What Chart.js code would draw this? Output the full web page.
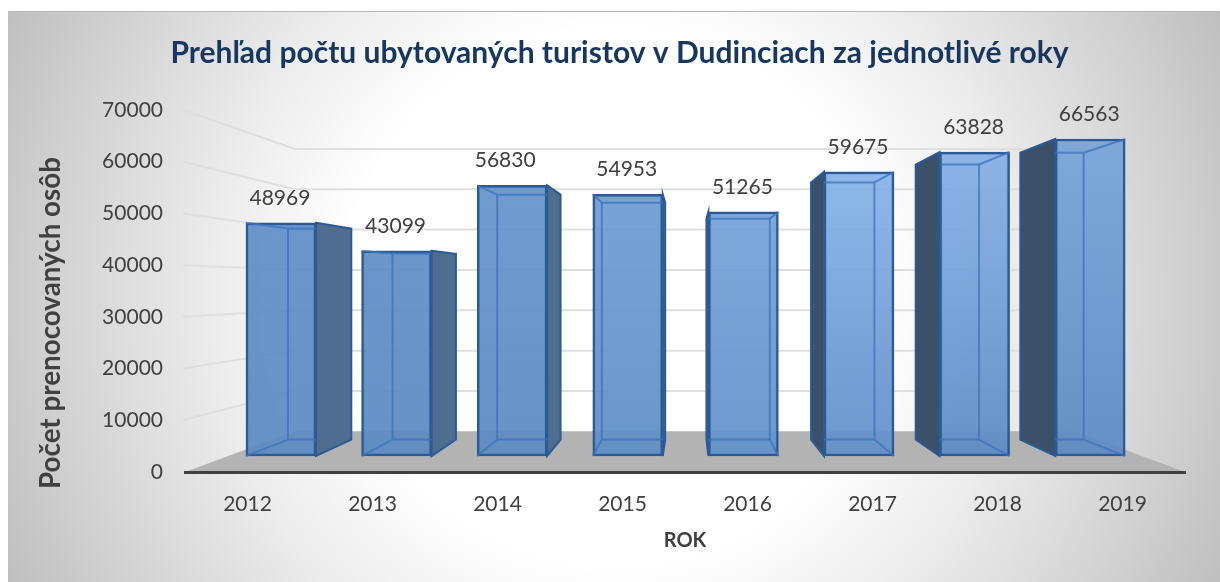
<!DOCTYPE html>
<html lang="sk">
<head>
<meta charset="utf-8">
<title>Prehľad počtu ubytovaných turistov</title>
<script src="https://cdn.jsdelivr.net/npm/chart.js@4"></script>
<style>
    html, body { margin: 0; background: #fff; }
    #panel {
        position: absolute; left: 8px; top: 11px; width: 1212px; height: 571px;
        border-top: 1px solid #b8b8b8; box-sizing: border-box;
        background: radial-gradient(circle 670px at 50% 50%, #fff 0%, #fff 40%, #ececec 60%, #d6d6d6 80%, #bfbfbf 100%);
    }
    canvas { position: absolute; left: 0; top: 0; }
</style>
</head>
<body>
<div id="panel"></div>
<canvas id="chart" width="1220" height="582"></canvas>
<script>
// Data
const years = ['2012', '2013', '2014', '2015', '2016', '2017', '2018', '2019'];
const guests = [48969, 43099, 56830, 54953, 51265, 59675, 63828, 66563];
const topColors = ['#6391c9', '#6391c9', '#6896cf', '#73a0d7', '#7da9e0', '#8db8ee', '#89b3e9', '#79a5db'];
const bottomColors = ['#5c8ac1', '#5c8ac1', '#5c8ac1', '#5e8ec6', '#6191ca', '#618fc9', '#5d8bc4', '#5d8ac2'];

const FONT = 'Lato, Carlito, sans-serif';
const TEXT = '#404040';

// perspective of the fake 3D: vanishing point + how far the back plane shrinks
const wall = { vx: 685, vy: 287, k: 0.78 };
const box = { vx: 688, vy: 283, k: 0.905 };

function project(p, x, y) {
    return [p.vx + p.k * (x - p.vx), p.vy + p.k * (y - p.vy)];
}

function poly(ctx, pts, fill) {
    ctx.beginPath();
    pts.forEach((pt, i) => i ? ctx.lineTo(pt[0], pt[1]) : ctx.moveTo(pt[0], pt[1]));
    ctx.closePath();
    if (fill) {
        ctx.fillStyle = fill;
        ctx.fill();
    }
}

function segment(ctx, a, b) {
    ctx.beginPath();
    ctx.moveTo(a[0], a[1]);
    ctx.lineTo(b[0], b[1]);
    ctx.stroke();
}

const scene3d = {
    id: 'scene3d',
    // floor and back wall
    beforeDraw(chart) {
        const { ctx, chartArea: a, scales } = chart;
        const y0 = scales.y.getPixelForValue(0);
        ctx.save();
        poly(ctx, [[a.left, y0], [a.right, y0], project(wall, a.right, y0), project(wall, a.left, y0)], '#b3b3b3');
        ctx.strokeStyle = '#dfdfdf';
        ctx.lineWidth = 2;
        scales.y.ticks.forEach(t => {
            if (t.value === 0) return;
            const py = scales.y.getPixelForValue(t.value);
            const back = project(wall, a.left, py);
            const backEnd = project(wall, a.right, py);
            ctx.beginPath();
            ctx.moveTo(a.left - 2, py);
            ctx.lineTo(back[0], back[1]);
            ctx.lineTo(backEnd[0], backEnd[1]);
            ctx.stroke();
        });
        ctx.restore();
    },
    // side faces go behind the front of each bar
    beforeDatasetsDraw(chart) {
        const { ctx } = chart;
        const bars = chart.getDatasetMeta(0).data;
        ctx.save();
        bars.forEach(bar => {
            const l = bar.x - bar.width / 2, r = bar.x + bar.width / 2;
            const tl = project(box, l, bar.y), tr = project(box, r, bar.y);
            const bl = project(box, l, bar.base), br = project(box, r, bar.base);
            ctx.lineWidth = 2;
            ctx.strokeStyle = '#2c5a94';
            if (tr[0] > r) {
                poly(ctx, [[r, bar.y], tr, br, [r, bar.base]], '#4e6d8f');
                ctx.stroke();
            }
            if (tl[0] < l) {
                poly(ctx, [[l, bar.y], tl, bl, [l, bar.base]], '#3b5069');
                ctx.stroke();
            }
        });
        ctx.restore();
    },
    // inner edges seen through the glass, value labels, y title
    afterDatasetsDraw(chart) {
        const { ctx } = chart;
        const bars = chart.getDatasetMeta(0).data;
        ctx.save();
        bars.forEach((bar, i) => {
            const l = bar.x - bar.width / 2, r = bar.x + bar.width / 2;
            const tl = project(box, l, bar.y), tr = project(box, r, bar.y);
            const bl = project(box, l, bar.base), br = project(box, r, bar.base);
            ctx.strokeStyle = 'rgba(60,115,190,0.75)';
            ctx.lineWidth = 2;
            const inL = Math.max(tl[0], l), inR = Math.min(tr[0], r);
            if (tl[0] > l) segment(ctx, tl, bl);
            if (tr[0] < r) segment(ctx, tr, br);
            segment(ctx, [inL, tl[1]], [inR, tr[1]]);
            segment(ctx, [inL, bl[1]], [inR, br[1]]);
            if (tl[0] > l) {
                segment(ctx, [l, bar.y], tl);
                segment(ctx, [l, bar.base], bl);
            }
            if (tr[0] < r) {
                segment(ctx, [r, bar.y], tr);
                segment(ctx, [r, bar.base], br);
            }
            ctx.fillStyle = TEXT;
            ctx.font = '21px ' + FONT;
            ctx.textAlign = 'center';
            ctx.textBaseline = 'middle';
            ctx.fillText(String(guests[i]), bar.x - (i === 2 ? 7 : 1), bar.y - 25);
        });
        ctx.translate(51, 323);
        ctx.rotate(-Math.PI / 2);
        ctx.fillStyle = TEXT;
        ctx.font = 'bold 27.8px ' + FONT;
        ctx.textAlign = 'center';
        ctx.textBaseline = 'middle';
        ctx.fillText('Počet prenocovaných osôb', 0, 0);
        ctx.restore();
    }
};

const chart = new Chart(document.getElementById('chart'), {
    type: 'bar',
    data: {
        labels: years,
        datasets: [{
            data: guests,
            xAxisID: 'xBar',
            yAxisID: 'yBar',
            backgroundColor: (c) => {
                if (!c.chart.chartArea) return topColors[c.dataIndex];
                const bar = c.chart.getDatasetMeta(0).data[c.dataIndex];
                const grad = c.chart.ctx.createLinearGradient(0, bar && bar.y ? bar.y : 120, 0, 456);
                // slightly see-through, the floor shows behind the foot of the bar
                grad.addColorStop(0, topColors[c.dataIndex] + 'ed');
                grad.addColorStop(1, bottomColors[c.dataIndex] + 'ed');
                return grad;
            },
            borderColor: '#2c5a94',
            borderWidth: 2.5,
            borderSkipped: false,
            barThickness: 70
        }]
    },
    options: {
        responsive: false,
        animation: false,
        layout: { padding: { left: 54, right: 35, top: 0, bottom: 20 } },
        plugins: {
            legend: { display: false },
            tooltip: { enabled: false },
            title: {
                display: true,
                text: 'Prehľad počtu ubytovaných turistov v Dudinciach za jednotlivé roky',
                color: '#17375e',
                font: { family: FONT, size: 30, weight: 'bold' },
                padding: { top: 35, bottom: 39 }
            }
        },
        scales: {
            // the axis that is printed on the left and bottom
            x: {
                type: 'category',
                labels: years,
                offset: true,
                grid: { display: false },
                border: { display: true, color: TEXT, width: 3 },
                ticks: { color: TEXT, font: { family: FONT, size: 21 }, padding: 12, maxRotation: 0 },
                title: { display: true, text: 'ROK', color: TEXT, font: { family: FONT, size: 20, weight: 'bold' }, padding: { top: 1, bottom: 9 } },
                afterFit: s => { s.height = 90; }
            },
            y: {
                min: 0,
                max: 70000,
                grid: { display: false },
                border: { display: false },
                ticks: { stepSize: 10000, color: TEXT, font: { family: FONT, size: 21 }, padding: 14, callback: v => String(v) },
                afterFit: s => { s.width = 131; }
            },
            // the front face of the boxes sits nearer than the wall, so it has its own hidden scales
            xBar: { type: 'linear', axis: 'x', display: false, offset: false, min: 2011.17, max: 2019.82 },
            yBar: { type: 'linear', axis: 'y', display: false, min: -3360, max: 72658 }
        }
    },
    plugins: [scene3d]
});
</script>
</body>
</html>
